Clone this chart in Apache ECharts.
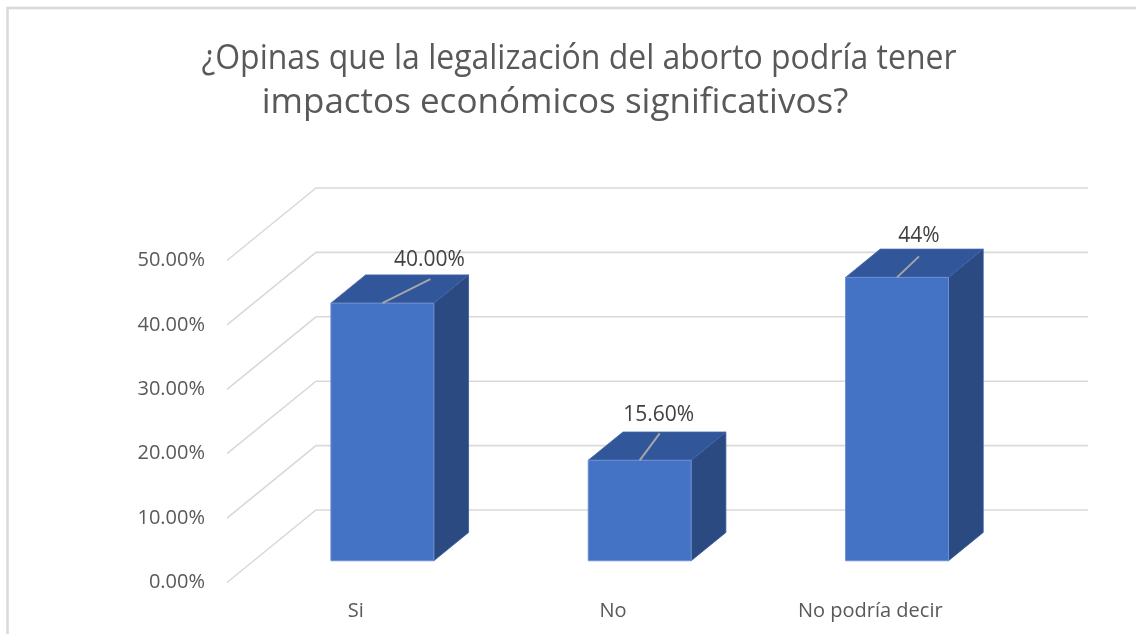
<!DOCTYPE html>
<html>
<head>
<meta charset="utf-8">
<script src="https://cdn.jsdelivr.net/npm/echarts@6/dist/echarts.min.js"></script>
<style>
  html, body { margin: 0; padding: 0; background: #fff; }
  #chart { width: 1136px; height: 634px; }
</style>
</head>
<body>
<div id="chart"></div>
<script>
const titleLines = ['¿Opinas que la legalización del aborto podría tener', 'impactos económicos significativos?'];
const categories = ['Si', 'No', 'No podría decir'];
const values = [0.40, 0.156, 0.44];
const valueLabels = ['40.00%', '15.60%', '44%'];
const yTicks = [0, 0.1, 0.2, 0.3, 0.4, 0.5];

// fake 3D box, in pixels / shares
const DEPTH = [89, -72.5];   // front plane -> back wall
const BAR_FRONT = 0.3;       // where the bar front sits in the depth
const BAR_DEPTH = 0.39;
const BAR_WIDTH = 0.4;       // share of the category band
// label spots picked by hand in the original
const labelShift = [[47, -43], [19, -45], [22, -41]];
const leaderEnd = [[48, -24], [20, -27], [22, -21]];

const FONT = '"Open Sans", "Noto Sans", sans-serif';
const chart = echarts.init(document.getElementById('chart'));

// title lines squeezed a bit so they take the width of the original font
function titleText(text, x, y, scaleX) {
  return {
    type: 'text', x: x, y: y, scaleX: scaleX, silent: true,
    style: { text: text, fontSize: 34, fontFamily: FONT, fill: '#595959', align: 'center', verticalAlign: 'middle' }
  };
}

const option = {
  animation: false,
  graphic: [
    {
      type: 'rect', z: -10, silent: true,
      shape: { x: 7.5, y: 8, width: 1400, height: 1000 },
      style: { fill: null, stroke: '#d9d9d9', lineWidth: 2.5 }
    },
    titleText(titleLines[0], 579, 59, 0.94),
    titleText(titleLines[1], 555, 103, 1.03)
  ],
  grid: { left: 227, right: 137, top: 260.5, bottom: 51.5 },
  xAxis: {
    type: 'category',
    data: categories,
    axisLine: { show: false },
    axisTick: { show: false },
    axisLabel: { fontSize: 20, fontFamily: FONT, color: '#595959', margin: 19 }
  },
  yAxis: {
    type: 'value',
    min: 0, max: 0.5, interval: 0.1,
    splitLine: { show: false },
    axisLine: { show: false },
    axisTick: { show: false },
    axisLabel: {
      fontSize: 20, fontFamily: FONT, color: '#595959', margin: 22,
      formatter: v => (v * 100).toFixed(2) + '%'
    }
  },
  series: [
    {
      // side wall + back wall gridlines
      type: 'custom',
      silent: true,
      clip: false,
      z: 1,
      data: yTicks.map(v => [0, v]),
      encode: { x: 0, y: 1 },
      renderItem(params, api) {
        const cs = params.coordSys;
        const y = api.coord([0, api.value(1)])[1];
        const x0 = cs.x, x1 = cs.x + cs.width;
        return {
          type: 'polyline',
          shape: { points: [[x0, y], [x0 + DEPTH[0], y + DEPTH[1]], [x1 + DEPTH[0], y + DEPTH[1]]] },
          style: { stroke: '#d9d9d9', lineWidth: 1.6, fill: null }
        };
      }
    },
    {
      type: 'custom',
      clip: false,
      z: 2,
      data: values.map((v, i) => [i, v]),
      encode: { x: 0, y: 1 },
      renderItem(params, api) {
        const i = api.value(0);
        const base = api.coord([i, 0]);
        const top = api.coord([i, api.value(1)]);
        const hw = api.size([1, 0])[0] * BAR_WIDTH / 2;
        const cx = base[0] + DEPTH[0] * BAR_FRONT;
        const xl = cx - hw, xr = cx + hw;
        const yb = base[1] + DEPTH[1] * BAR_FRONT;
        const yt = top[1] + DEPTH[1] * BAR_FRONT;
        const dx = DEPTH[0] * BAR_DEPTH, dy = DEPTH[1] * BAR_DEPTH;
        return {
          type: 'group',
          children: [
            {
              type: 'polygon',
              shape: { points: [[xr, yt], [xr + dx, yt + dy], [xr + dx, yb + dy], [xr, yb]] },
              style: { fill: '#2b4a82', stroke: '#3a5b95', lineWidth: 0.8 }
            },
            {
              type: 'polygon',
              shape: { points: [[xl, yt], [xl + dx, yt + dy], [xr + dx, yt + dy], [xr, yt]] },
              style: { fill: '#32569a', stroke: '#4065a8', lineWidth: 0.8 }
            },
            {
              type: 'rect',
              shape: { x: xl, y: yt, width: xr - xl, height: yb - yt },
              style: { fill: '#4472c4', stroke: '#6d90d2', lineWidth: 1 }
            },
            {
              type: 'line',
              shape: { x1: cx, y1: yt, x2: cx + leaderEnd[i][0], y2: yt + leaderEnd[i][1] },
              style: { stroke: '#a6a6a6', lineWidth: 2 }
            },
            {
              type: 'text',
              x: cx + labelShift[i][0], y: yt + labelShift[i][1],
              style: {
                text: valueLabels[i], fontSize: 21, fontFamily: FONT, fill: '#404040',
                align: 'center', verticalAlign: 'middle'
              }
            }
          ]
        };
      }
    }
  ]
};

chart.setOption(option);
</script>
</body>
</html>
